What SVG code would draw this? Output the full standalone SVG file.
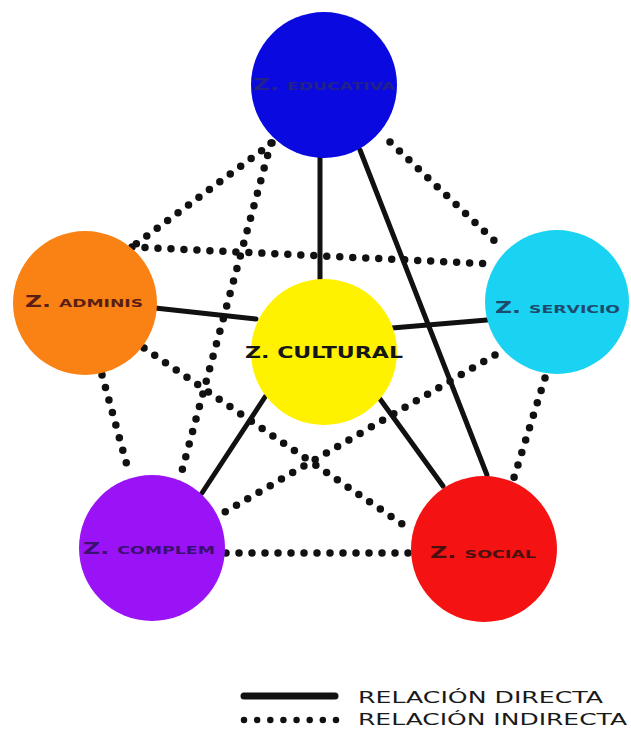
<svg xmlns="http://www.w3.org/2000/svg" width="631" height="729" viewBox="0 0 631 729">
<style>
.solid{stroke:#111;stroke-width:5;stroke-linecap:round;fill:none}
.dot{stroke:#111;stroke-width:7.5;stroke-linecap:round;stroke-dasharray:0 13;fill:none}
.lbl{font-family:"DejaVu Sans","Liberation Sans",sans-serif;font-weight:bold}
.big{font-size:15px}
.sm{font-size:11px}
.leg{font-family:"DejaVu Sans","Liberation Sans",sans-serif;font-size:16px;fill:#1a1a1a}
</style>
<rect width="631" height="729" fill="#ffffff"/>
<g id="connectors">
<line class="dot" x1="272" y1="143" x2="132" y2="247"/>
<line class="dot" x1="271" y1="143" x2="180" y2="478"/>
<line class="dot" x1="390" y1="142" x2="501" y2="247"/>
<line class="dot" x1="132" y1="247" x2="493" y2="264"/>
<line class="dot" x1="102" y1="375" x2="128" y2="469"/>
<line class="dot" x1="144" y1="348" x2="408" y2="528"/>
<line class="dot" x1="495" y1="355" x2="218" y2="516"/>
<line class="dot" x1="545" y1="378" x2="512" y2="484"/>
<line class="dot" x1="226" y1="553" x2="412" y2="553"/>
<line class="solid" x1="320" y1="150" x2="320" y2="282"/>
<line class="solid" x1="360" y1="150" x2="487" y2="475"/>
<line class="solid" x1="155" y1="308" x2="256" y2="319"/>
<line class="solid" x1="392" y1="328" x2="487" y2="320"/>
<line class="solid" x1="265" y1="397" x2="202" y2="493"/>
<line class="solid" x1="380" y1="399" x2="443" y2="486"/>
</g>
<g id="educativa">
<circle cx="324" cy="85" r="73" fill="#0a0ae0"/>
<text class="lbl" x="253" y="90" textLength="142" lengthAdjust="spacingAndGlyphs" fill="#22228a"><tspan class="big">Z. </tspan><tspan class="sm">EDUCATIVA</tspan></text>
</g>
<g id="adminis">
<circle cx="85" cy="303" r="72" fill="#fa8214"/>
<text class="lbl" x="25" y="307" textLength="118" lengthAdjust="spacingAndGlyphs" fill="#5a1e14"><tspan class="big">Z. </tspan><tspan class="sm">ADMINIS</tspan></text>
</g>
<g id="servicio">
<circle cx="557" cy="302" r="72" fill="#1ad2f2"/>
<text class="lbl" x="495" y="313" textLength="125" lengthAdjust="spacingAndGlyphs" fill="#1e4a6e"><tspan class="big">Z. </tspan><tspan class="sm">SERVICIO</tspan></text>
</g>
<g id="cultural">
<circle cx="324" cy="352" r="73" fill="#fff200"/>
<text class="lbl" x="245" y="358" textLength="158" lengthAdjust="spacingAndGlyphs" fill="#151515" style="font-size:15px">Z. CULTURAL</text>
</g>
<g id="complem">
<circle cx="152" cy="548" r="73" fill="#9a12f6"/>
<text class="lbl" x="83" y="554" textLength="132" lengthAdjust="spacingAndGlyphs" fill="#3a1070"><tspan class="big">Z. </tspan><tspan class="sm">COMPLEM</tspan></text>
</g>
<g id="social">
<circle cx="484" cy="549" r="73" fill="#f51212"/>
<text class="lbl" x="430" y="558" textLength="106" lengthAdjust="spacingAndGlyphs" fill="#4a1010"><tspan class="big">Z. </tspan><tspan class="sm">SOCIAL</tspan></text>
</g>
<g id="legend">
<line x1="244" y1="696" x2="335" y2="696" stroke="#111" stroke-width="7" stroke-linecap="round"/>
<line x1="244" y1="720" x2="336" y2="720" stroke="#111" stroke-width="6.5" stroke-linecap="round" stroke-dasharray="0 13.14"/>
<text class="leg" x="358" y="703" textLength="245" lengthAdjust="spacingAndGlyphs">RELACIÓN DIRECTA</text>
<text class="leg" x="358" y="725" textLength="269" lengthAdjust="spacingAndGlyphs">RELACIÓN INDIRECTA</text>
</g>
</svg>
